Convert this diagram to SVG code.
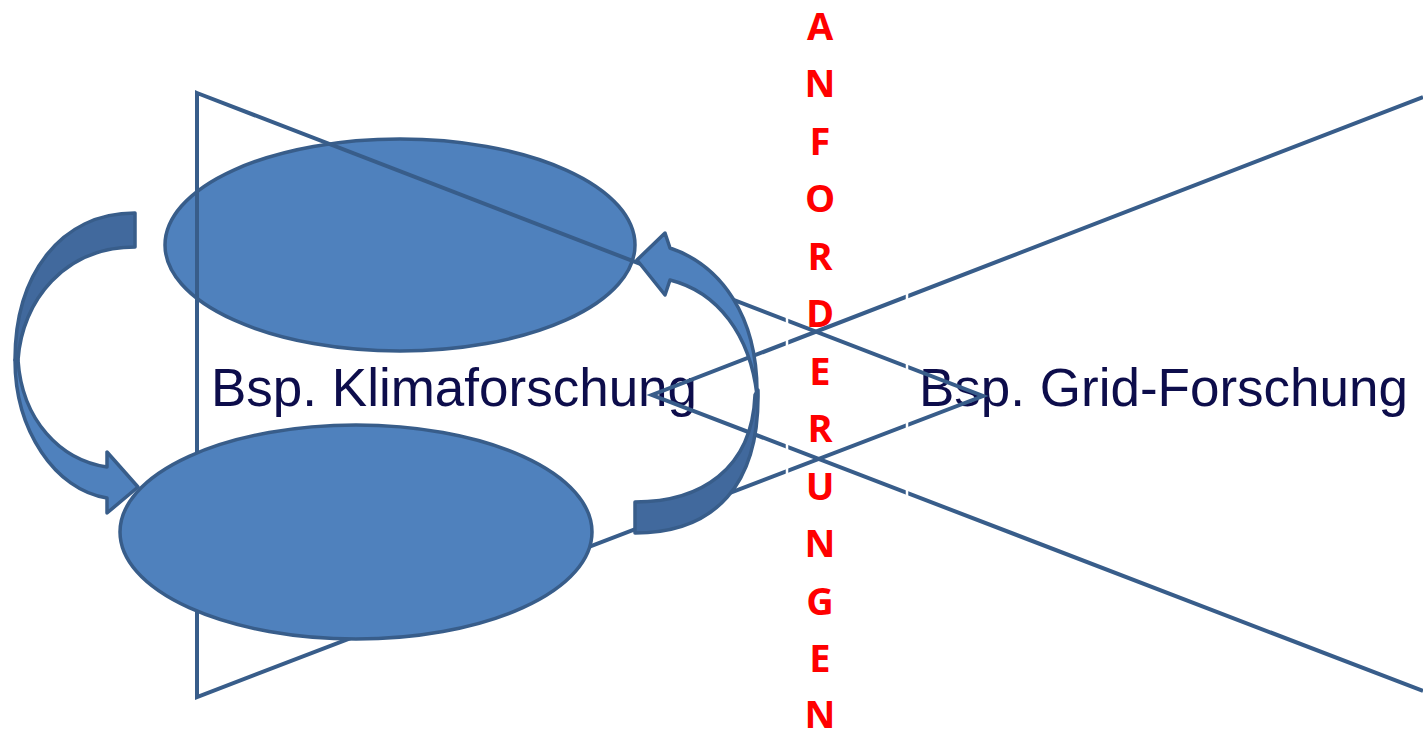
<svg xmlns="http://www.w3.org/2000/svg" width="1423" height="732" viewBox="0 0 1423 732">
  <style>
    .oval { fill: #4F81BD; stroke: #385D8A; stroke-width: 3.5; }
    .wedge { fill: none; stroke: #385D8A; stroke-width: 4; stroke-linejoin: miter; }
    .gap { stroke: #FFFFFF; stroke-width: 2.5; }
    .label { font-family: "Liberation Sans", Arial, sans-serif; font-size: 53px; fill: #0D0D4B; }
    .req { font-family: "Open Sans", "Liberation Sans", sans-serif; font-weight: bold; font-size: 38px; fill: #FF0000; text-anchor: middle; }
    .arrow-back { fill: #41699D; stroke: #385D8A; stroke-width: 3.5; stroke-linejoin: round; }
    .arrow-front { fill: #4F81BD; stroke: #385D8A; stroke-width: 3.5; stroke-linejoin: round; }
  </style>

  <!-- upper cycle stage -->
  <g id="oval-top">
    <ellipse class="oval" cx="400" cy="245" rx="235" ry="106"/>
  </g>

  <!-- labels -->
  <g id="label-klima">
    <text class="label" x="211" y="406">Bsp. Klimaforschung</text>
  </g>
  <g id="label-grid">
    <text class="label" x="919" y="406">Bsp. Grid-Forschung</text>
  </g>

  <g id="connectors">
    <!-- wedge opening to the left, apex right -->
    <polygon class="wedge" points="197,93 983,396 197,697"/>
    <!-- wedge opening to the right, apex left -->
    <polyline class="wedge" points="1423,97 652,395 1423,691"/>
    <!-- breaks in the wedge lines -->
    <line class="gap" x1="787" y1="300" x2="787" y2="500"/>
    <line class="gap" x1="907" y1="280" x2="907" y2="510"/>
  </g>

  <!-- lower cycle stage -->
  <g id="oval-bottom">
    <ellipse class="oval" cx="356" cy="532" rx="236" ry="107"/>
  </g>

  <!-- left curved arrow: top oval to bottom oval -->
  <g id="arrow-left">
    <path class="arrow-back" d="M135,213 L135,247 C65,247 22,300 18,360 L15,360 C15,275 60,213 135,213 Z"/>
    <path class="arrow-front" d="M15,360 C15,430 55,490 107,498 L107,513 L138,487 L107,452 L107,467 C60,460 22,420 18,360 Z"/>
  </g>

  <!-- right curved arrow: bottom oval to top oval -->
  <g id="arrow-right">
    <path class="arrow-front" d="M665,233 L670,248 C720,265 758,315 757,395 C750,335 718,292 670,280 L665,295 L637,260 Z"/>
    <path class="arrow-back" d="M635,502 L635,533 C715,533 760,485 758,390 L755,395 C752,470 700,502 635,502 Z"/>
  </g>

  <!-- vertical requirements label -->
  <g id="requirements">
    <text class="req" x="820" y="40">A</text>
    <text class="req" x="820" y="97">N</text>
    <text class="req" x="820" y="155">F</text>
    <text class="req" x="820" y="212">O</text>
    <text class="req" x="820" y="270">R</text>
    <text class="req" x="820" y="327">D</text>
    <text class="req" x="820" y="385">E</text>
    <text class="req" x="820" y="442">R</text>
    <text class="req" x="820" y="500">U</text>
    <text class="req" x="820" y="557">N</text>
    <text class="req" x="820" y="615">G</text>
    <text class="req" x="820" y="672">E</text>
    <text class="req" x="820" y="728">N</text>
  </g>
</svg>
